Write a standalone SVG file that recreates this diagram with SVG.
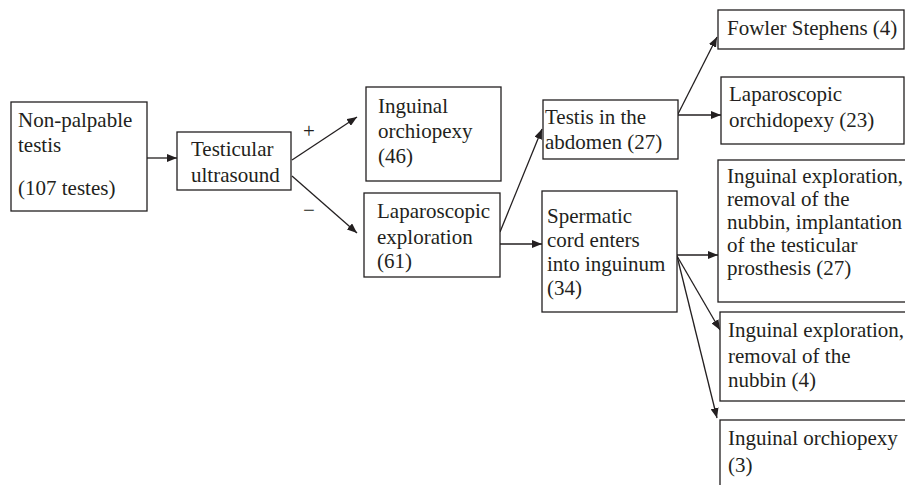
<svg xmlns="http://www.w3.org/2000/svg" width="905" height="485" viewBox="0 0 905 485">
<style>
.box{fill:#fff;stroke:#231f20;stroke-width:1.3}
.t{font-size:21px;fill:#231f20}
.c{stroke:#231f20;stroke-width:1.3;fill:none;marker-end:url(#ah)}
</style>
<defs>
<marker id="ah" viewBox="0 0 10 8" refX="10" refY="4" markerWidth="10" markerHeight="8" markerUnits="userSpaceOnUse" orient="auto">
<path d="M0,0 L10,4 L0,8 Z" fill="#231f20"/>
</marker>
</defs>
<rect width="905" height="485" fill="#fff"/>
<g font-family="'Liberation Serif', 'Times New Roman', Times, serif">
<g id="connectors">
<line class="c" x1="147" y1="158" x2="177" y2="158"/>
<line class="c" x1="292" y1="160" x2="357" y2="117"/>
<line class="c" x1="292" y1="176" x2="357" y2="233"/>
<line class="c" x1="500" y1="232" x2="542" y2="129"/>
<line class="c" x1="500" y1="244" x2="542" y2="244"/>
<line class="c" x1="678" y1="114" x2="717" y2="37"/>
<line class="c" x1="678" y1="115" x2="721" y2="115"/>
<line class="c" x1="677" y1="255" x2="718" y2="255"/>
<line class="c" x1="677" y1="256" x2="720" y2="330"/>
<line class="c" x1="677" y1="256" x2="717" y2="418"/>
<text class="t" x="309" y="138" text-anchor="middle">+</text>
<text class="t" x="309" y="217" text-anchor="middle">−</text>
</g>
<g id="n1">
<rect class="box" x="11" y="102" width="136" height="109"/>
<text class="t" x="18" y="127">Non-palpable</text>
<text class="t" x="18" y="152">testis</text>
<text class="t" x="18" y="195">(107 testes)</text>
</g>
<g id="n2">
<rect class="box" x="177" y="132" width="114" height="58"/>
<text class="t" x="191" y="156">Testicular</text>
<text class="t" x="191" y="182">ultrasound</text>
</g>
<g id="n3">
<rect class="box" x="366" y="87" width="135" height="94"/>
<text class="t" x="378" y="113">Inguinal</text>
<text class="t" x="378" y="138">orchiopexy</text>
<text class="t" x="378" y="163">(46)</text>
</g>
<g id="n4">
<rect class="box" x="364" y="193" width="136" height="84"/>
<text class="t" x="377" y="218">Laparoscopic</text>
<text class="t" x="377" y="244">exploration</text>
<text class="t" x="377" y="268">(61)</text>
</g>
<g id="n5">
<rect class="box" x="543" y="100" width="135" height="59"/>
<text class="t" x="545" y="124">Testis in the</text>
<text class="t" x="545" y="149">abdomen (27)</text>
</g>
<g id="n6">
<rect class="box" x="542" y="191" width="135" height="121"/>
<text class="t" x="547" y="223">Spermatic</text>
<text class="t" x="547" y="247">cord enters</text>
<text class="t" x="547" y="271">into inguinum</text>
<text class="t" x="547" y="295">(34)</text>
</g>
<g id="n7">
<rect class="box" x="718" y="10" width="186" height="39"/>
<text class="t" x="727" y="35">Fowler Stephens (4)</text>
</g>
<g id="n8">
<rect class="box" x="721" y="77" width="183" height="67"/>
<text class="t" x="729" y="101">Laparoscopic</text>
<text class="t" x="729" y="127">orchidopexy (23)</text>
</g>
<g id="n9">
<rect class="box" x="718" y="160" width="200" height="142"/>
<text class="t" x="727" y="183">Inguinal exploration,</text>
<text class="t" x="727" y="206">removal of the</text>
<text class="t" x="727" y="229">nubbin, implantation</text>
<text class="t" x="727" y="252">of the testicular</text>
<text class="t" x="727" y="275">prosthesis (27)</text>
</g>
<g id="n10">
<rect class="box" x="720" y="312" width="200" height="89"/>
<text class="t" x="728" y="337">Inguinal exploration,</text>
<text class="t" x="728" y="363">removal of the</text>
<text class="t" x="728" y="387">nubbin (4)</text>
</g>
<g id="n11">
<rect class="box" x="720" y="420" width="200" height="80"/>
<text class="t" x="728" y="445">Inguinal orchiopexy</text>
<text class="t" x="728" y="472">(3)</text>
</g>
</g>
</svg>
